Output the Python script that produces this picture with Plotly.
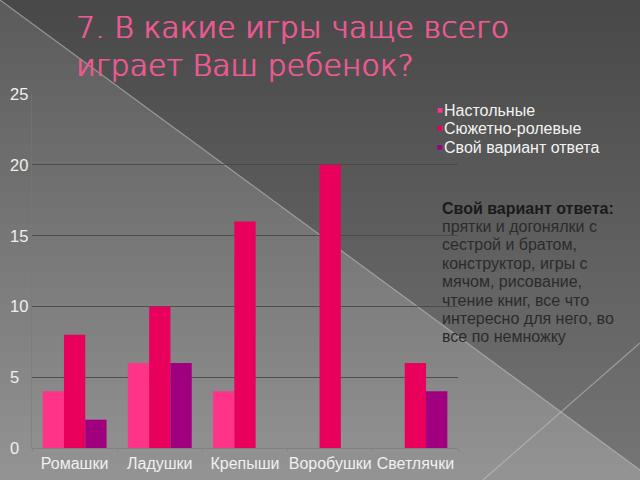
import plotly.graph_objects as go

categories = ["Ромашки", "Ладушки", "Крепыши", "Воробушки", "Светлячки"]
series_names = ["Настольные", "Сюжетно-ролевые", "Свой вариант ответа"]
nastolnye = [4, 6, 4, 0, 0]
syuzhetno = [8, 10, 16, 20, 6]
svoi = [2, 6, 0, 0, 4]
y_ticks = [0, 5, 10, 15, 20, 25]
title_lines = ["7. В какие игры чаще всего", "играет Ваш ребенок?"]
note_title = "Свой вариант ответа:"
note_lines = ["прятки и догонялки с", "сестрой и братом,", "конструктор, игры с",
              "мячом, рисование,", "чтение книг, все что", "интересно для него, во",
              "все по немножку"]
colors = ["#ff3388", "#e8005c", "#a0007e"]

W, H = 640, 480
L, R, T, B = 32, 458, 94, 448
FONT = "Liberation Sans, Arial"

def px(x):
    return (x - L) / (R - L)

def py(y):
    return (B - y) / (B - T)

fig = go.Figure()
for name, vals, c in zip(series_names, [nastolnye, syuzhetno, svoi], colors):
    fig.add_trace(go.Bar(x=categories, y=vals, name=name, marker_color=c,
                         marker_line_width=0, showlegend=False))

shapes = []
n = 30
top_c = (0x5c, 0x5c, 0x5c)
bot_c = (0x93, 0x93, 0x93)
for i in range(n):
    t = i / (n - 1)
    c = tuple(int(top_c[k] + (bot_c[k] - top_c[k]) * t) for k in range(3))
    y0 = H * i / n
    y1 = H * (i + 1) / n + 1
    shapes.append(dict(type="rect", xref="paper", yref="paper", layer="below",
                       x0=px(0), x1=px(W), y0=py(y0), y1=py(y1),
                       fillcolor="rgb(%d,%d,%d)" % c, line_width=0))
path = "M %f,%f L %f,%f L %f,%f Z" % (px(0), py(0), px(W), py(0), px(W), py(470))
shapes.append(dict(type="path", xref="paper", yref="paper", layer="below",
                   path=path, fillcolor="rgba(0,0,0,0.2)", line_width=0))
shapes.append(dict(type="line", xref="paper", yref="paper", layer="below",
                   x0=px(0), y0=py(0), x1=px(W), y1=py(470),
                   line=dict(color="rgba(200,200,200,0.55)", width=1.2)))
shapes.append(dict(type="line", xref="paper", yref="paper", layer="below",
                   x0=px(483), y0=py(480), x1=px(W), y1=py(343),
                   line=dict(color="rgba(200,200,200,0.55)", width=1.2)))

fig.update_layout(
    width=W, height=H,
    margin=dict(l=L, r=W - R, t=T, b=H - B, pad=0),
    paper_bgcolor="#6e6e6e",
    plot_bgcolor="rgba(0,0,0,0)",
    barmode="group", bargap=0.25, bargroupgap=0,
    shapes=shapes,
    showlegend=False,
    font=dict(family=FONT, color="#ececec"),
)
fig.update_xaxes(showgrid=False, showline=True, linecolor="rgba(120,120,120,0.6)",
                 tickfont=dict(size=16, color="#f0f0f0"), ticks="outside",
                 tickson="boundaries", ticklen=3, tickcolor="rgba(130,130,130,0.7)",
                 tickangle=0, ticklabelstandoff=1, automargin=False, range=[-0.5, 4.5])
fig.update_yaxes(range=[0, 25], tickvals=y_ticks, showgrid=True,
                 gridcolor="rgba(72,72,72,0.9)", gridwidth=1.2,
                 showline=True, linecolor="rgba(120,120,120,0.5)",
                 showticklabels=False, ticks="", zeroline=False, automargin=False)

for v in y_ticks:
    fig.add_annotation(xref="paper", yref="y", x=px(8), y=v, xanchor="left",
                       yanchor="middle", showarrow=False, text=str(v),
                       font=dict(family=FONT, size=16.5, color="#f0f0f0"))

tcol = "#ea5a93"
for i, line in enumerate(title_lines):
    fig.add_annotation(xref="paper", yref="paper", x=px(74), y=py(40 + 38 * i),
                       xanchor="left", yanchor="bottom", align="left", showarrow=False,
                       text=line, yshift=-7,
                       font=dict(family="DejaVu Sans", size=30, weight=200, color=tcol,
                                 shadow="0.6px 0 0 %s, -0.3px 0 0 %s" % (tcol, tcol)))

leg_y = [110, 128.5, 147]
for name, c, yy in zip(series_names, colors, leg_y):
    fig.add_annotation(xref="paper", yref="paper", x=px(435), y=py(yy - 1),
                       xanchor="left", yanchor="middle", showarrow=False,
                       text="■", font=dict(family="DejaVu Sans", size=6, color=c))
    fig.add_annotation(xref="paper", yref="paper", x=px(442), y=py(yy),
                       xanchor="left", yanchor="middle", showarrow=False,
                       text=name, font=dict(family=FONT, size=16, color="#f2f2f2"))

fig.add_annotation(xref="paper", yref="paper", x=px(440), y=py(208),
                   xanchor="left", yanchor="middle", showarrow=False,
                   text="<b>" + note_title + "</b>",
                   font=dict(family=FONT, size=16, color="#1a1a1a"))
for i, line in enumerate(note_lines):
    fig.add_annotation(xref="paper", yref="paper", x=px(440), y=py(226.5 + 18.4 * i),
                       xanchor="left", yanchor="middle", showarrow=False,
                       text=line, font=dict(family=FONT, size=16, color="#2b2b2b"))

fig.write_html("out.html")
